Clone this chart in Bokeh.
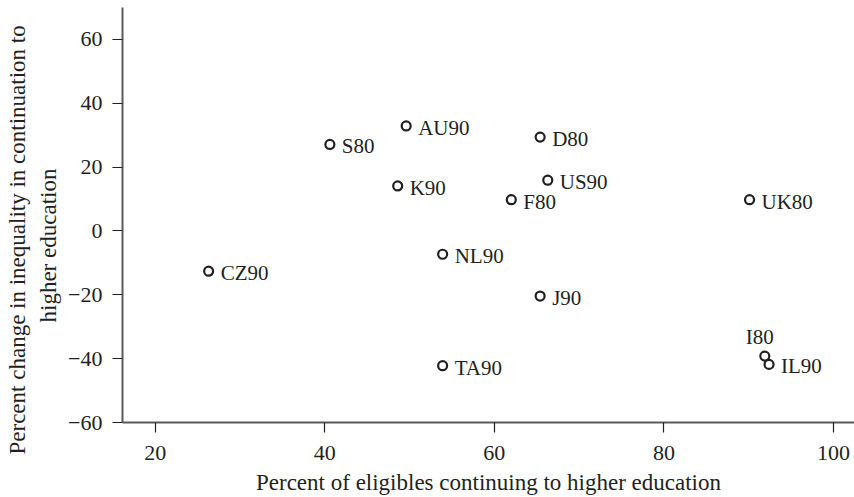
from bokeh.plotting import figure
from bokeh.models import ColumnDataSource, Title
from bokeh.core.properties import value
from bokeh.embed import file_html
from bokeh.resources import INLINE

# Data
labels = ["CZ90", "S80", "AU90", "K90", "NL90", "TA90", "D80", "US90",
          "F80", "J90", "UK80", "I80", "IL90"]
pct_continuing = [26.3, 40.6, 49.6, 48.6, 53.9, 53.9, 65.4, 66.3,
                  62.0, 65.4, 90.1, 91.9, 92.4]
pct_change_inequality = [-12.6, 27.1, 32.9, 14.1, -7.3, -42.2, 29.4, 15.9,
                         9.8, -20.4, 9.8, -39.2, -41.8]
x_ticks = [20, 40, 60, 80, 100]
y_ticks = [-60, -40, -20, 0, 20, 40, 60]
x_title = "Percent of eligibles continuing to higher education"
y_title_lines = ["Percent change in inequality in continuation to",
                 "higher education"]

FONT = "Liberation Serif"
INK = "#231f20"
AXIS = "#5a5a5a"

p = figure(width=854, height=497, output_backend="svg", toolbar_location=None,
           x_range=(16.14, 102.48), y_range=(-60, 70),
           min_border_left=122, min_border_right=0, min_border_top=7,
           min_border_bottom=75)
p.outline_line_color = None
p.grid.visible = False

src = ColumnDataSource(dict(x=pct_continuing, y=pct_change_inequality, name=labels))
p.scatter("x", "y", source=src, marker="circle", size=9, fill_color=None,
          line_color=INK, line_width=2.2)

right_idx = [i for i, n in enumerate(labels) if n != "I80"]
above_idx = [i for i, n in enumerate(labels) if n == "I80"]
src_r = ColumnDataSource(dict(x=[pct_continuing[i] for i in right_idx],
                              y=[pct_change_inequality[i] for i in right_idx],
                              name=[labels[i] for i in right_idx]))
src_a = ColumnDataSource(dict(x=[pct_continuing[i] for i in above_idx],
                              y=[pct_change_inequality[i] for i in above_idx],
                              name=[labels[i] for i in above_idx]))
p.text("x", "y", text="name", source=src_r, x_offset=12, y_offset=2,
       text_baseline="middle", text_align="left", text_font=value(FONT),
       text_font_size="21px", text_color=INK)
p.text("x", "y", text="name", source=src_a, x_offset=-5, y_offset=-7,
       text_baseline="bottom", text_align="center", text_font=value(FONT),
       text_font_size="21px", text_color=INK)

for ax in (p.xaxis[0], p.yaxis[0]):
    ax.axis_line_color = AXIS
    ax.axis_line_width = 2
    ax.major_tick_line_color = INK
    ax.major_tick_line_width = 1.2
    ax.major_tick_in = 0
    ax.major_tick_out = 10
    ax.minor_tick_line_color = None
    ax.major_label_text_font = FONT
    ax.major_label_text_font_size = "22px"
    ax.major_label_text_color = INK
    ax.axis_label_text_font = FONT
    ax.axis_label_text_font_size = "23px"
    ax.axis_label_text_font_style = "normal"
    ax.axis_label_text_color = INK

p.xaxis.ticker = x_ticks
p.yaxis.ticker = y_ticks
p.yaxis.major_label_overrides = {t: (str(t) if t >= 0 else "\u2212" + str(-t)) for t in y_ticks}
p.xaxis.major_label_standoff = 13
p.yaxis.major_label_standoff = 10
p.xaxis.axis_label = x_title
p.xaxis.axis_label_standoff = 7

# y-axis title: two lines, each centred near y≈240 px (below the frame centre)
line2 = Title(text=y_title_lines[1], align="left", offset=100, text_font=FONT,
              text_font_size="23px", text_font_style="normal",
              text_color=INK, standoff=9)
line1 = Title(text=y_title_lines[0], align="left", offset=-32, text_font=FONT,
              text_font_size="23px", text_font_style="normal",
              text_color=INK, standoff=0)
p.add_layout(line2, "left")
p.add_layout(line1, "left")

open("out.html", "w").write(file_html(p, INLINE))
